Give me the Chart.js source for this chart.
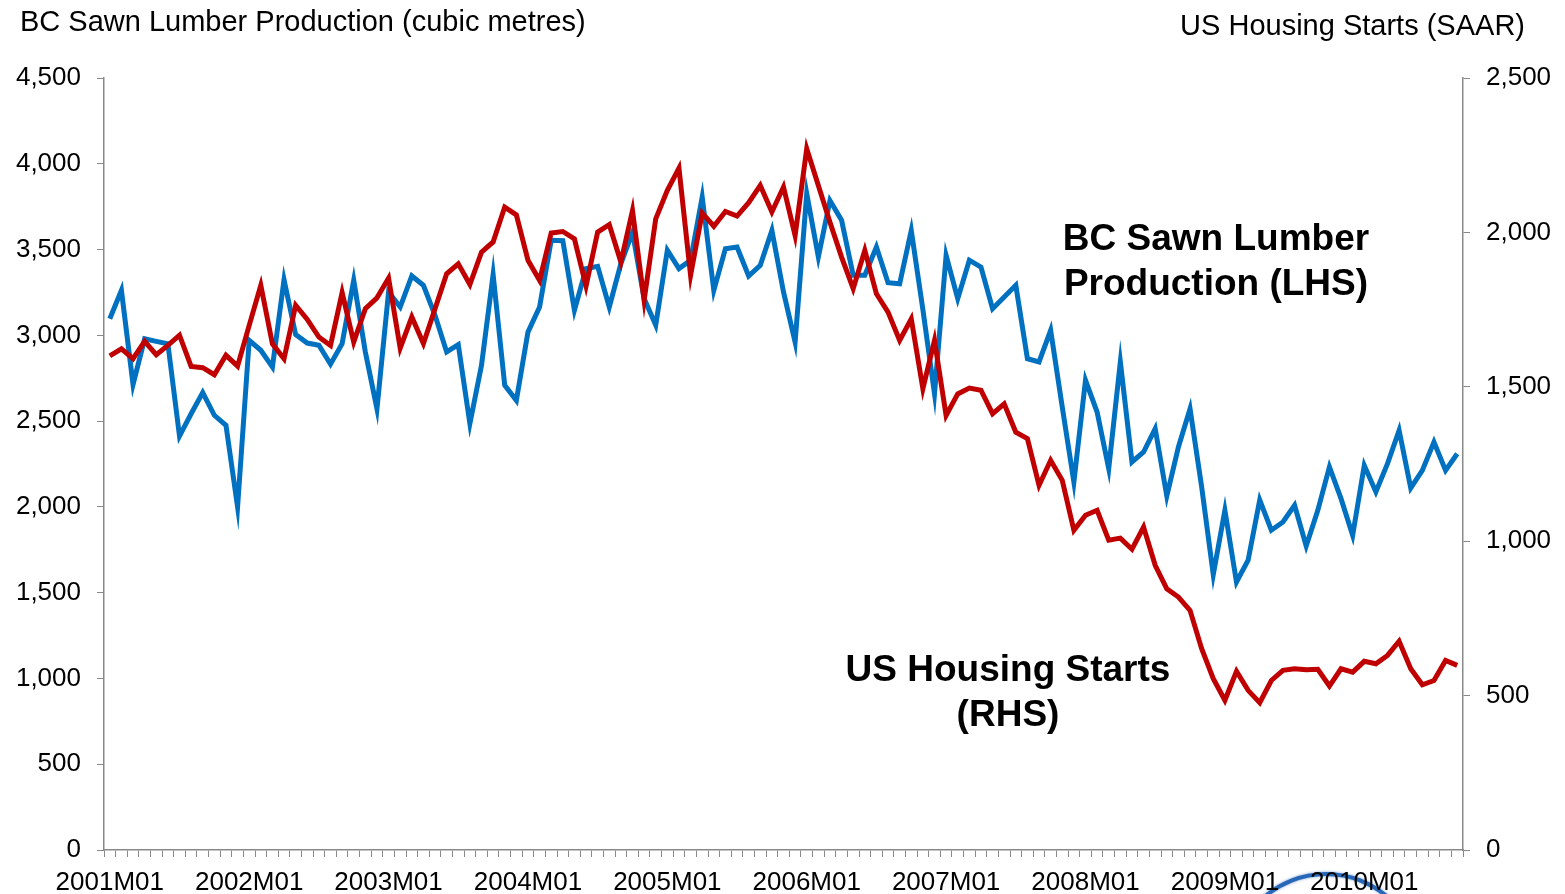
<!DOCTYPE html>
<html>
<head>
<meta charset="utf-8">
<script src="https://cdn.jsdelivr.net/npm/chart.js@4.4.0/dist/chart.umd.min.js"></script>
<style>
  html, body { margin: 0; padding: 0; background: #ffffff; }
  #wrap { width: 1565px; height: 894px; position: relative; }
</style>
</head>
<body>
<div id="wrap"><canvas id="c" width="1565" height="894"></canvas></div>
<script>
// ---- Data ----
const startYear = 2001;
const monthCount = 117; // 2001M01 .. 2010M09
const categories = [];
for (let i = 0; i < monthCount; i++) {
  const y = startYear + Math.floor(i / 12);
  const m = (i % 12) + 1;
  categories.push(y + 'M' + (m < 10 ? '0' + m : '' + m));
}

// BC Sawn Lumber Production (cubic metres) - left axis
const lumberProduction = [
  3097, 3262, 2714, 2980, 2965, 2951, 2413, 2543, 2666, 2534, 2476, 1999,
  2971, 2913, 2815, 3324, 3004, 2955, 2942, 2832, 2951, 3321, 2903, 2572,
  3253, 3165, 3346, 3292, 3117, 2903, 2946, 2485, 2825, 3354, 2709, 2621,
  3019, 3165, 3554, 3552, 3146, 3389, 3402, 3165, 3418, 3600, 3214, 3059,
  3496, 3389, 3438, 3806, 3262, 3505, 3515, 3346, 3408, 3612, 3253, 2961,
  3826, 3457, 3786, 3671, 3350, 3350, 3515, 3307, 3301, 3612, 3150, 2660,
  3466, 3214, 3438, 3398, 3155, 3223, 3292, 2864, 2845, 3029, 2582, 2145,
  2738, 2553, 2223, 2845, 2262, 2320, 2456, 2063, 2349, 2572, 2116, 1605,
  1980, 1562, 1689, 2040, 1864, 1912, 2009, 1772, 1980, 2233, 2048, 1834,
  2242, 2087, 2252, 2446, 2110, 2213, 2378, 2213, 2310
];

// US Housing Starts (SAAR, thousands) - right axis
const housingStarts = [
  1600, 1623, 1591, 1647, 1604, 1634, 1667, 1566, 1562, 1539, 1602, 1567,
  1699, 1829, 1639, 1591, 1764, 1718, 1661, 1634, 1805, 1645, 1753, 1788,
  1852, 1625, 1726, 1640, 1753, 1866, 1898, 1831, 1936, 1969, 2082, 2057,
  1910, 1845, 1998, 2003, 1979, 1826, 2001, 2025, 1904, 2071, 1780, 2044,
  2136, 2208, 1861, 2063, 2020, 2068, 2053, 2096, 2152, 2066, 2147, 1990,
  2271, 2152, 2033, 1920, 1818, 1942, 1801, 1742, 1650, 1720, 1494, 1650,
  1407, 1477, 1496, 1489, 1413, 1445, 1353, 1332, 1181, 1262, 1197, 1035,
  1084, 1100, 1003, 1010, 974, 1046, 922, 846, 819, 776, 652, 555,
  485, 579, 517, 477, 549, 582, 587, 584, 585, 531, 587, 576,
  611, 603, 630, 676, 587, 535, 549, 614, 598
];

const leftTicks = [0, 500, 1000, 1500, 2000, 2500, 3000, 3500, 4000, 4500];
const rightTicks = [0, 500, 1000, 1500, 2000, 2500];

const leftTitle = 'BC Sawn Lumber Production (cubic metres)';
const rightTitle = 'US Housing Starts (SAAR)';
const lumberLabel = ['BC Sawn Lumber', 'Production (LHS)'];
const housingLabel = ['US Housing Starts', '(RHS)'];

// ---- Styles ----
const FONT = '"Liberation Sans", Arial, Helvetica, sans-serif';
const AXIS_GRAY = '#898989';
const BLUE = '#0070C0';
const RED = '#C00000';

const fmt = v => Number(v).toLocaleString('en-US');

const decorPlugin = {
  id: 'decor',
  beforeDraw(chart) {
    const ctx = chart.ctx;
    ctx.save();
    ctx.fillStyle = '#ffffff';
    ctx.fillRect(0, 0, chart.width, chart.height);
    // partial blue ring at bottom edge (decoration in reference)
    ctx.beginPath();
    ctx.arc(1326, 968, 94, 0, Math.PI * 2);
    ctx.strokeStyle = '#2767b8';
    ctx.lineWidth = 4;
    ctx.shadowColor = 'rgba(30,90,170,0.6)';
    ctx.shadowBlur = 3;
    ctx.stroke();
    ctx.restore();
  },
  afterDraw(chart) {
    const ctx = chart.ctx;
    ctx.save();
    ctx.fillStyle = '#000000';
    ctx.textBaseline = 'middle';
    ctx.font = '29px ' + FONT;
    ctx.textAlign = 'left';
    ctx.fillText(leftTitle, 20, 23);
    ctx.textAlign = 'right';
    ctx.fillText(rightTitle, 1525, 27);

    ctx.font = 'bold 37px ' + FONT;
    ctx.textAlign = 'center';
    ctx.fillText(lumberLabel[0], 1216, 240);
    ctx.fillText(lumberLabel[1], 1216, 285);
    ctx.fillText(housingLabel[0], 1008, 671);
    ctx.fillText(housingLabel[1], 1008, 716);
    ctx.restore();
  }
};

new Chart(document.getElementById('c'), {
  type: 'line',
  data: {
    labels: categories,
    datasets: [
      {
        label: 'US Housing Starts (RHS)',
        data: housingStarts,
        yAxisID: 'y1',
        borderColor: RED,
        backgroundColor: RED,
        borderWidth: 5,
        pointRadius: 0,
        tension: 0,
        order: 0
      },
      {
        label: 'BC Sawn Lumber Production (LHS)',
        data: lumberProduction,
        yAxisID: 'y',
        borderColor: BLUE,
        backgroundColor: BLUE,
        borderWidth: 5,
        pointRadius: 0,
        tension: 0,
        order: 1
      }
    ]
  },
  options: {
    responsive: false,
    animation: false,
    events: [],
    layout: { padding: { top: 78, left: 0, right: 0, bottom: 0 } },
    plugins: {
      legend: { display: false },
      title: { display: false },
      tooltip: { enabled: false }
    },
    scales: {
      x: {
        type: 'category',
        offset: true,
        grid: {
          offset: true,
          drawOnChartArea: false,
          drawTicks: true,
          tickLength: 7,
          tickColor: AXIS_GRAY,
          lineWidth: 1
        },
        border: { color: AXIS_GRAY, width: 1.5 },
        ticks: {
          autoSkip: false,
          maxRotation: 0,
          minRotation: 0,
          padding: 10,
          color: '#000000',
          font: { family: FONT, size: 26 },
          callback: function (val, idx) {
            return idx % 12 === 0 ? this.getLabelForValue(val) : '';
          }
        },
        afterFit(scale) { scale.height = 44; }
      },
      y: {
        position: 'left',
        min: 0,
        max: 4500,
        afterBuildTicks(scale) { scale.ticks = leftTicks.map(v => ({ value: v })); },
        grid: {
          drawOnChartArea: false,
          drawTicks: true,
          tickLength: 7,
          tickColor: AXIS_GRAY
        },
        border: { color: AXIS_GRAY, width: 1.5 },
        ticks: {
          padding: 16,
          color: '#000000',
          font: { family: FONT, size: 26 },
          callback: v => fmt(v)
        },
        afterFit(scale) { scale.width = 104; }
      },
      y1: {
        position: 'right',
        min: 0,
        max: 2500,
        afterBuildTicks(scale) { scale.ticks = rightTicks.map(v => ({ value: v })); },
        grid: {
          drawOnChartArea: false,
          drawTicks: true,
          tickLength: 7,
          tickColor: AXIS_GRAY
        },
        border: { color: AXIS_GRAY, width: 1.5 },
        ticks: {
          padding: 16,
          color: '#000000',
          font: { family: FONT, size: 26 },
          callback: v => fmt(v)
        },
        afterFit(scale) { scale.width = 102; }
      }
    }
  },
  plugins: [decorPlugin]
});
</script>
</body>
</html>
